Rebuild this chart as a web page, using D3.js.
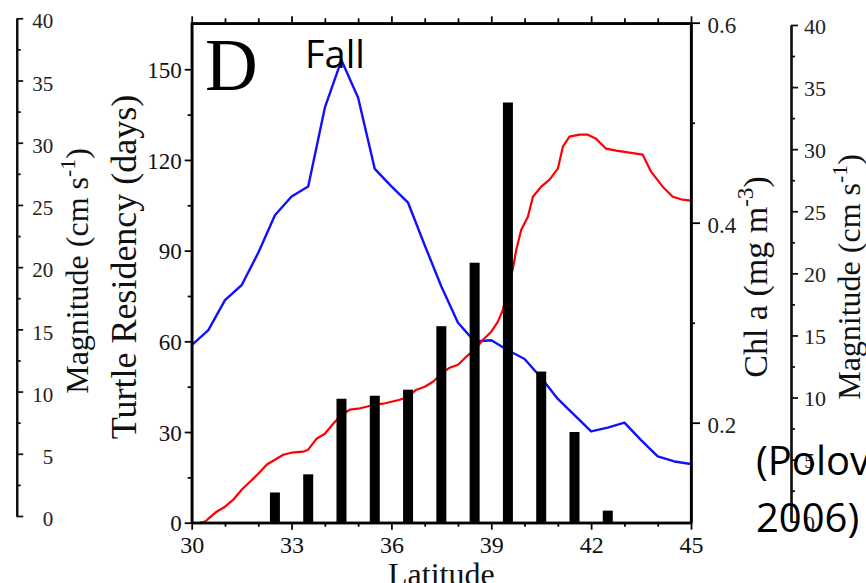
<!DOCTYPE html>
<html>
<head>
<meta charset="utf-8">
<script src="https://cdn.jsdelivr.net/npm/d3@7"></script>
<style>
  html, body { margin: 0; padding: 0; background: #fff; }
  svg { display: block; }
</style>
</head>
<body>
<svg id="chart" width="866" height="583"></svg>
<script>
// ---------------- data ----------------
const latMajorTicks = [30, 33, 36, 39, 42, 45];
const latMinorTicks = [31, 32, 34, 35, 37, 38, 40, 41, 43, 44];
const residencyTicks = [0, 30, 60, 90, 120, 150];
const residencyMinorTicks = [15, 45, 75, 105, 135];
const chlTicks = [0.2, 0.4, 0.6];
const chlMinorTicks = [0.3, 0.5];
const magTicks = [0, 5, 10, 15, 20, 25, 30, 35, 40];
const magMinorTicks = [2.5, 7.5, 12.5, 17.5, 22.5, 27.5, 32.5, 37.5];

// Turtle residency (days) per latitude bin
const barLat = [32.5, 33.5, 34.5, 35.5, 36.5, 37.5, 38.5, 39.5, 40.5, 41.5, 42.5];
const residency = [10, 16, 41, 42, 44, 65, 86, 139, 50, 30, 4];

// Current magnitude (cm s-1), blue
const magLat = [30, 30.5, 31, 31.5, 32, 32.5, 33, 33.5, 34, 34.5, 35, 35.5, 36, 36.5, 37, 37.5,
                38, 38.5, 39, 39.5, 40, 40.5, 41, 41.5, 42, 42.5, 43, 43.5, 44, 44.5, 45];
const magnitude = [14.2, 15.4, 17.8, 19.0, 21.6, 24.6, 26.1, 26.9, 33.2, 37.0, 34.0, 28.3, 26.9, 25.6, 22.2, 18.9,
                   16.0, 14.5, 14.6, 13.8, 13.1, 11.6, 9.9, 8.6, 7.3, 7.6, 8.0, 6.6, 5.3, 4.9, 4.7];

// Chl a (mg m-3), red
const chlLat = [30.25, 30.4, 30.5, 30.75, 31, 31.25, 31.5, 31.75, 32, 32.25, 32.5, 32.75, 33, 33.35, 33.5, 33.75,
                34, 34.25, 34.5, 34.75, 35, 35.25, 35.5, 35.75, 36, 36.25, 36.5, 36.75, 37, 37.25, 37.5, 37.75,
                38, 38.25, 38.5, 38.75, 39, 39.2, 39.35, 39.5, 39.65, 39.75, 39.9, 40.1, 40.25, 40.5, 40.75,
                41, 41.15, 41.35, 41.65, 41.9, 42.15, 42.45, 42.75, 43.15, 43.55, 43.8, 44.15, 44.45, 44.75, 45];
const chl = [0.100, 0.101, 0.104, 0.111, 0.116, 0.123, 0.133, 0.141, 0.149, 0.158, 0.163, 0.168, 0.170, 0.171, 0.173, 0.184,
             0.189, 0.199, 0.208, 0.213, 0.214, 0.216, 0.218, 0.219, 0.221, 0.223, 0.226, 0.233, 0.236, 0.241, 0.249, 0.255,
             0.258, 0.266, 0.273, 0.283, 0.291, 0.301, 0.313, 0.336, 0.354, 0.373, 0.393, 0.406, 0.426, 0.436, 0.443,
             0.454, 0.476, 0.486, 0.488, 0.488, 0.484, 0.474, 0.472, 0.470, 0.468, 0.451, 0.436, 0.426, 0.423, 0.422];

// ---------------- layout ----------------
const SERIF = "'Liberation Serif', 'Times New Roman', serif";
const SANS = "'Open Sans', 'Noto Sans', sans-serif";
const L = 191.7, R = 691, T = 23.3, B = 522.7;

const svg = d3.select("#chart");

const x = d3.scaleLinear().domain([30, 45]).range([L, R]);
const yRes = d3.scaleLinear().domain([0, 165.2]).range([B, T]);
const yChl = d3.scaleLinear().domain([0.1, 0.6]).range([B, 22.7]);
const yMag = d3.scaleLinear().domain([0, 40]).range([B, 22.7]);
const yMagLeft = d3.scaleLinear().domain([0, 40]).range([516, 18.3]);
const yMagRight = d3.scaleLinear().domain([0, 40]).range([521.7, 25]);

// clip for plot content
svg.append("clipPath").attr("id", "plotclip")
  .append("rect").attr("x", L).attr("y", T).attr("width", R - L).attr("height", B - T);

const plot = svg.append("g").attr("clip-path", "url(#plotclip)");

// blue magnitude line
plot.append("path")
  .datum(magLat.map((d, i) => [d, magnitude[i]]))
  .attr("fill", "none").attr("stroke", "#1010ff").attr("stroke-width", 2.4)
  .attr("stroke-linejoin", "round")
  .attr("d", d3.line().x(d => x(d[0])).y(d => yMag(d[1])));

// red chl line
plot.append("path")
  .datum(chlLat.map((d, i) => [d, chl[i]]))
  .attr("fill", "none").attr("stroke", "#ff0000").attr("stroke-width", 2.2)
  .attr("stroke-linejoin", "round")
  .attr("d", d3.line().x(d => x(d[0])).y(d => yChl(d[1])));

// bars
plot.selectAll("rect.bar")
  .data(barLat.map((d, i) => ({ lat: d, v: residency[i] })))
  .join("rect").attr("class", "bar")
  .attr("x", d => x(d.lat - 0.15))
  .attr("width", d => x(d.lat + 0.15) - x(d.lat - 0.15))
  .attr("y", d => yRes(d.v))
  .attr("height", d => B - yRes(d.v))
  .attr("fill", "#000");

// ---------------- axes ----------------
function styleAxis(g, color, width) {
  g.selectAll("path.domain").attr("stroke", color).attr("stroke-width", width);
  g.selectAll(".tick line").attr("stroke", color).attr("stroke-width", width * 0.8);
}

// frame
svg.append("rect").attr("x", L).attr("y", T).attr("width", R - L).attr("height", B - T)
  .attr("fill", "none").attr("stroke", "#000").attr("stroke-width", 2.2);

// left (residency)
const gLeft = svg.append("g").attr("transform", `translate(${L},0)`)
  .call(d3.axisLeft(yRes).tickValues(residencyTicks).tickSize(7).tickSizeOuter(0).tickPadding(3));
gLeft.selectAll("text").attr("font-family", SERIF).attr("font-size", 23).attr("fill", "#111").attr("dy", "0.36em");
styleAxis(gLeft, "#000", 2.2);
const gLeftMinor = svg.append("g").attr("transform", `translate(${L},0)`)
  .call(d3.axisLeft(yRes).tickValues(residencyMinorTicks).tickSize(4).tickSizeOuter(0).tickFormat(""));
styleAxis(gLeftMinor, "#000", 2.2);

// bottom
const gBottom = svg.append("g").attr("transform", `translate(0,${B})`)
  .call(d3.axisBottom(x).tickValues(latMajorTicks).tickSize(7).tickSizeOuter(0).tickPadding(6.5).tickFormat(d3.format("d")));
gBottom.selectAll("text").attr("font-family", SERIF).attr("font-size", 24).attr("fill", "#111");
styleAxis(gBottom, "#000", 2.2);
const gBottomMinor = svg.append("g").attr("transform", `translate(0,${B})`)
  .call(d3.axisBottom(x).tickValues(latMinorTicks).tickSize(4).tickSizeOuter(0).tickFormat(""));
styleAxis(gBottomMinor, "#000", 2.2);

// top
const gTop = svg.append("g").attr("transform", `translate(0,${T})`)
  .call(d3.axisTop(x).tickValues(latMajorTicks).tickSize(7).tickSizeOuter(0).tickFormat(""));
styleAxis(gTop, "#000", 2.2);
const gTopMinor = svg.append("g").attr("transform", `translate(0,${T})`)
  .call(d3.axisTop(x).tickValues(latMinorTicks).tickSize(5).tickSizeOuter(0).tickFormat(""));
styleAxis(gTopMinor, "#000", 2.2);

// right (chl a)
const gRight = svg.append("g").attr("transform", `translate(${R},0)`)
  .call(d3.axisRight(yChl).tickValues(chlTicks).tickSize(9).tickSizeOuter(0).tickPadding(7.5).tickFormat(d3.format(".1f")));
gRight.selectAll("text").attr("font-family", SERIF).attr("font-size", 23).attr("fill", "#222").attr("dy", "0.43em");
styleAxis(gRight, "#000", 2.2);
const gRightMinor = svg.append("g").attr("transform", `translate(${R},0)`)
  .call(d3.axisRight(yChl).tickValues(chlMinorTicks).tickSize(4).tickSizeOuter(0).tickFormat(""));
styleAxis(gRightMinor, "#000", 2.2);

// far-left magnitude axis
const gFarLeft = svg.append("g").attr("transform", "translate(16.7,0)")
  .call(d3.axisRight(yMagLeft).tickValues(magTicks).tickSize(6.5).tickSizeOuter(0).tickFormat(d3.format("d")));
gFarLeft.selectAll("text").attr("font-family", SERIF).attr("font-size", 21).attr("fill", "#222")
  .attr("text-anchor", "end").attr("x", 36.6).attr("dy", "0.46em");
styleAxis(gFarLeft, "#111", 2.2);
const gFarLeftMinor = svg.append("g").attr("transform", "translate(16.7,0)")
  .call(d3.axisRight(yMagLeft).tickValues(magMinorTicks).tickSize(4).tickSizeOuter(0).tickFormat(""));
styleAxis(gFarLeftMinor, "#111", 2.2);

// far-right magnitude axis
const gFarRight = svg.append("g").attr("transform", "translate(791,0)")
  .call(d3.axisRight(yMagRight).tickValues(magTicks).tickSize(7).tickSizeOuter(0).tickPadding(6).tickFormat(d3.format("d")));
gFarRight.selectAll("text").attr("font-family", SERIF).attr("font-size", 22).attr("fill", "#222").attr("dy", "0.38em");
styleAxis(gFarRight, "#111", 2.2);
const gFarRightMinor = svg.append("g").attr("transform", "translate(791,0)")
  .call(d3.axisRight(yMagRight).tickValues(magMinorTicks).tickSize(4).tickSizeOuter(0).tickFormat(""));
styleAxis(gFarRightMinor, "#111", 2.2);

// ---------------- titles ----------------
function rotatedTitle(cx, cy, size, main, sup, tail, color) {
  const t = svg.append("text")
    .attr("transform", `translate(${cx},${cy}) rotate(-90)`)
    .attr("text-anchor", "middle")
    .attr("font-family", SERIF).attr("font-size", size).attr("fill", color || "#111");
  t.append("tspan").text(main);
  if (sup) {
    t.append("tspan").attr("font-size", size * 0.68).attr("dy", -size * 0.42).text(sup);
    t.append("tspan").attr("dy", size * 0.42).text(tail);
  }
  return t;
}
rotatedTitle(88, 271, 32, "Magnitude (cm s", "-1", ")");
rotatedTitle(136, 267, 36, "Turtle Residency (days)");
rotatedTitle(767, 277, 34, "Chl a (mg m", "-3", ")");
rotatedTitle(860, 277, 32, "Magnitude (cm s", "-1", ")");

svg.append("text").attr("x", x(37.5)).attr("y", 585).attr("text-anchor", "middle")
  .attr("font-family", SERIF).attr("font-size", 32).attr("fill", "#111").text("Latitude");

// panel letter and season
svg.append("text").attr("x", 205).attr("y", 90)
  .attr("font-family", SERIF).attr("font-size", 73).attr("fill", "#000").text("D");
svg.append("text").attr("x", 305).attr("y", 68)
  .attr("font-family", SANS).attr("font-size", 38).attr("fill", "#000").text("Fall");

// citation overlay
svg.append("text").attr("x", 756).attr("y", 475)
  .attr("font-family", SANS).attr("font-size", 40).attr("fill", "#000").text("(Polovina et al.");
svg.append("text").attr("x", 756).attr("y", 531.7)
  .attr("font-family", SANS).attr("font-size", 40).attr("fill", "#000").text("2006)");
</script>
</body>
</html>
